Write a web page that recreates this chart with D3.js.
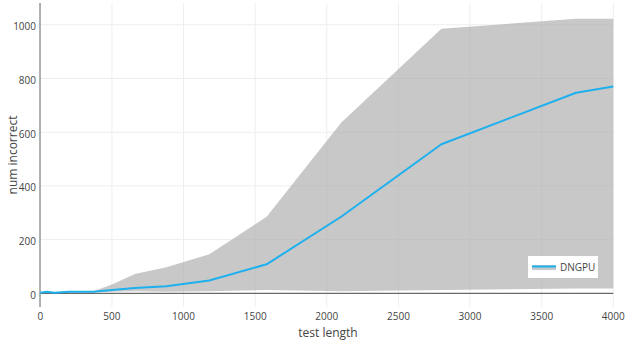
<!DOCTYPE html>
<html>
<head>
<meta charset="utf-8">
<script src="https://cdn.jsdelivr.net/npm/d3@7"></script>
<style>
  body { margin: 0; background: #fff; }
  text { font-family: "Open Sans", sans-serif; }
</style>
</head>
<body>
<div class="chart"></div>
<script>
// test length vs num incorrect
var testLength = [0, 45, 100, 200, 370, 500, 660, 880, 1180, 1580, 2100, 2800, 3740, 4000];
var meanIncorrect = [2, 6, 2, 6, 6, 12, 20, 26, 48, 108, 285, 555, 747, 770];
var upperIncorrect = [3, 7, 4, 8, 8, 33, 72, 97, 145, 285, 635, 985, 1022, 1022];
var lowerIncorrect = [0, 2, 0, 3, 4, 6, 8, 6, 8, 12, 8, 12, 18, 18];
var xTicks = [0, 500, 1000, 1500, 2000, 2500, 3000, 3500, 4000];
var yTicks = [0, 200, 400, 600, 800, 1000];
var seriesName = "DNGPU";

var data = testLength.map(function(d, i) {
  return {x: d, mean: meanIncorrect[i], lo: lowerIncorrect[i], hi: upperIncorrect[i]};
});

var svg = d3.select(".chart")
  .append("svg")
    .attr("width", 626)
    .attr("height", 343);

var x = d3.scaleLinear().domain([0, 4000]).range([40.3, 613.3]);
var y = d3.scaleLinear().domain([-51, 1081]).range([307, 3]);

// grid
svg.append("g")
  .selectAll("line")
  .data(xTicks)
  .join("line")
    .attr("x1", function(d) { return x(d); })
    .attr("x2", function(d) { return x(d); })
    .attr("y1", 3)
    .attr("y2", 307)
    .attr("stroke", "#eee")
    .attr("stroke-width", 1);

svg.append("g")
  .selectAll("line")
  .data(yTicks.filter(function(d) { return d != 0; }))
  .join("line")
    .attr("x1", 40)
    .attr("x2", 613.3)
    .attr("y1", function(d) { return y(d); })
    .attr("y2", function(d) { return y(d); })
    .attr("stroke", "#eee")
    .attr("stroke-width", 1);

// band
var band = d3.area()
  .x(function(d) { return x(d.x); })
  .y0(function(d) { return y(d.lo); })
  .y1(function(d) { return y(d.hi); });

svg.append("path")
  .datum(data)
  .attr("d", band)
  .attr("fill", "rgba(170,170,170,0.65)");

// zero line + y axis line
svg.append("line")
  .attr("x1", 40)
  .attr("x2", 613.3)
  .attr("y1", y(0))
  .attr("y2", y(0))
  .attr("stroke", "#444")
  .attr("stroke-width", 1);

svg.append("line")
  .attr("x1", 40)
  .attr("x2", 40)
  .attr("y1", 3)
  .attr("y2", 307)
  .attr("stroke", "#999")
  .attr("stroke-width", 1.5);

// mean line
var line = d3.line()
  .x(function(d) { return x(d.x); })
  .y(function(d) { return y(d.mean); });

svg.append("path")
  .datum(data)
  .attr("d", line)
  .attr("fill", "none")
  .attr("stroke", "#1eb0ee")
  .attr("stroke-width", 2)
  .attr("stroke-linejoin", "round");

// tick labels
svg.append("g")
  .selectAll("text")
  .data(xTicks)
  .join("text")
    .attr("x", function(d) { return x(d); })
    .attr("y", 320)
    .attr("text-anchor", "middle")
    .attr("fill", "#444")
    .style("font-size", "10px")
    .text(function(d) { return d; });

svg.append("g")
  .selectAll("text")
  .data(yTicks)
  .join("text")
    .attr("x", 36)
    .attr("y", function(d) { return y(d) + 5.5; })
    .attr("text-anchor", "end")
    .attr("fill", "#444")
    .style("font-size", "10px")
    .text(function(d) { return d; });

// axis titles
svg.append("text")
  .attr("x", 328)
  .attr("y", 337)
  .attr("text-anchor", "middle")
  .attr("fill", "#444")
  .style("font-size", "12px")
  .text("test length");

svg.append("text")
  .attr("transform", "translate(17,155) rotate(-90)")
  .attr("text-anchor", "middle")
  .attr("fill", "#444")
  .style("font-size", "12px")
  .text("num incorrect");

// legend
svg.append("rect")
  .attr("x", 528)
  .attr("y", 256)
  .attr("width", 70)
  .attr("height", 22)
  .attr("fill", "#fff");

svg.append("rect")
  .attr("x", 532)
  .attr("y", 265)
  .attr("width", 24)
  .attr("height", 5)
  .attr("fill", "rgba(170,170,170,0.65)");

svg.append("line")
  .attr("x1", 532)
  .attr("x2", 556)
  .attr("y1", 266.5)
  .attr("y2", 266.5)
  .attr("stroke", "#1eb0ee")
  .attr("stroke-width", 2);

svg.append("text")
  .attr("x", 560)
  .attr("y", 270.5)
  .attr("fill", "#444")
  .style("font-size", "10px")
  .text(seriesName);
</script>
</body>
</html>
